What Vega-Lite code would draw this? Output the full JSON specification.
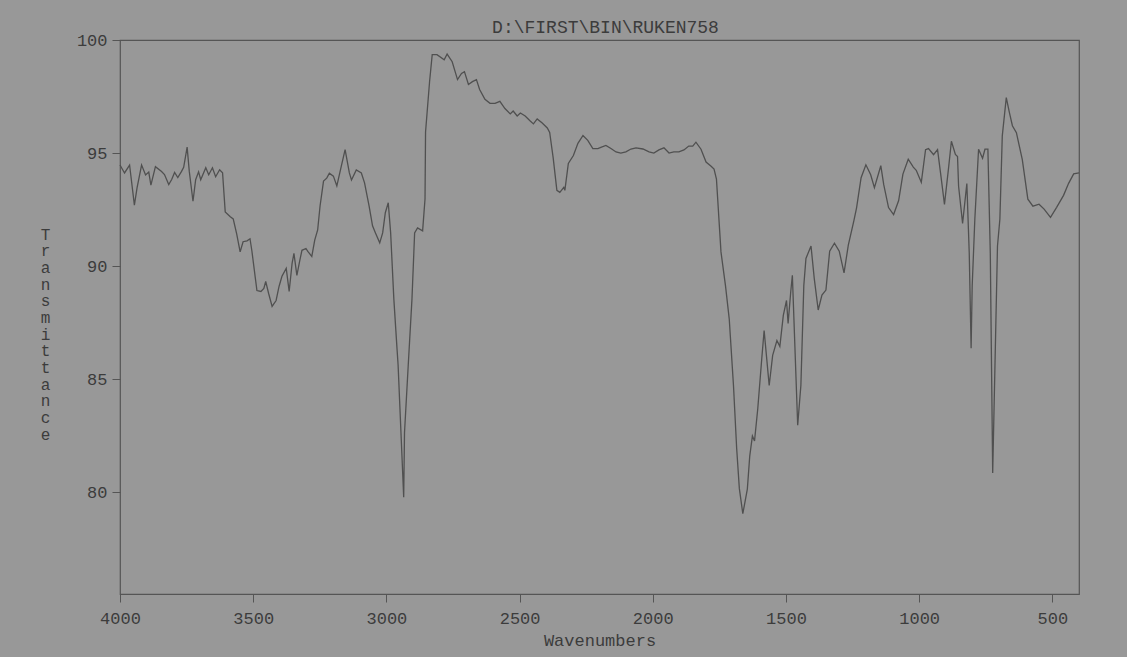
{
  "$schema": "https://vega.github.io/schema/vega-lite/v6.json",
  "autosize": "none",
  "width": 959,
  "height": 554,
  "padding": {"left": 120, "top": 40, "right": 48, "bottom": 63},
  "background": "#989898",
  "title": {
    "text": "D:\\FIRST\\BIN\\RUKEN758",
    "anchor": "middle",
    "offset": -6,
    "font": "Liberation Mono",
    "fontSize": 18,
    "fontWeight": "normal",
    "color": "#3c3c3c",
    "dx": 6
  },
  "config": {
    "view": {"stroke": "#555555", "strokeWidth": 1.2, "fill": null},
    "axis": {
      "labelFont": "Liberation Mono",
      "titleFont": "Liberation Mono",
      "labelColor": "#3c3c3c",
      "titleColor": "#3c3c3c",
      "tickColor": "#555555",
      "grid": false,
      "domain": false,
      "labelFontSize": 17,
      "titleFontWeight": "normal"
    }
  },
  "data": {
    "values": [
      {"wn": 4000, "T": 94.47}, {"wn": 3983, "T": 94.12}, {"wn": 3964, "T": 94.47}, {"wn": 3946, "T": 92.70},
      {"wn": 3936, "T": 93.46}, {"wn": 3919, "T": 94.47}, {"wn": 3904, "T": 94.03}, {"wn": 3892, "T": 94.16},
      {"wn": 3884, "T": 93.58}, {"wn": 3867, "T": 94.40}, {"wn": 3844, "T": 94.18}, {"wn": 3833, "T": 94.05},
      {"wn": 3817, "T": 93.61}, {"wn": 3806, "T": 93.83}, {"wn": 3795, "T": 94.14}, {"wn": 3783, "T": 93.92},
      {"wn": 3769, "T": 94.19}, {"wn": 3761, "T": 94.37}, {"wn": 3748, "T": 95.26}, {"wn": 3740, "T": 94.20},
      {"wn": 3726, "T": 92.87}, {"wn": 3716, "T": 93.82}, {"wn": 3705, "T": 94.17}, {"wn": 3697, "T": 93.82},
      {"wn": 3678, "T": 94.35}, {"wn": 3667, "T": 94.04}, {"wn": 3653, "T": 94.35}, {"wn": 3641, "T": 93.95},
      {"wn": 3626, "T": 94.26}, {"wn": 3615, "T": 94.13}, {"wn": 3605, "T": 92.40}, {"wn": 3586, "T": 92.18},
      {"wn": 3575, "T": 92.09}, {"wn": 3562, "T": 91.43}, {"wn": 3549, "T": 90.63}, {"wn": 3538, "T": 91.08},
      {"wn": 3523, "T": 91.12}, {"wn": 3512, "T": 91.21}, {"wn": 3505, "T": 90.68}, {"wn": 3486, "T": 88.92},
      {"wn": 3471, "T": 88.88}, {"wn": 3460, "T": 89.01}, {"wn": 3453, "T": 89.32}, {"wn": 3442, "T": 88.79},
      {"wn": 3429, "T": 88.22}, {"wn": 3414, "T": 88.48}, {"wn": 3403, "T": 89.10}, {"wn": 3392, "T": 89.55},
      {"wn": 3376, "T": 89.90}, {"wn": 3365, "T": 88.88}, {"wn": 3354, "T": 90.12}, {"wn": 3347, "T": 90.56},
      {"wn": 3336, "T": 89.59}, {"wn": 3325, "T": 90.25}, {"wn": 3317, "T": 90.70}, {"wn": 3302, "T": 90.78},
      {"wn": 3295, "T": 90.65}, {"wn": 3280, "T": 90.43}, {"wn": 3269, "T": 91.15}, {"wn": 3258, "T": 91.60},
      {"wn": 3249, "T": 92.66}, {"wn": 3236, "T": 93.76}, {"wn": 3224, "T": 93.89}, {"wn": 3214, "T": 94.11},
      {"wn": 3199, "T": 93.98}, {"wn": 3186, "T": 93.55}, {"wn": 3169, "T": 94.43}, {"wn": 3155, "T": 95.15},
      {"wn": 3139, "T": 94.12}, {"wn": 3131, "T": 93.81}, {"wn": 3113, "T": 94.25}, {"wn": 3094, "T": 94.12},
      {"wn": 3082, "T": 93.68}, {"wn": 3065, "T": 92.66}, {"wn": 3052, "T": 91.78}, {"wn": 3041, "T": 91.47},
      {"wn": 3025, "T": 91.03}, {"wn": 3014, "T": 91.47}, {"wn": 3004, "T": 92.36}, {"wn": 2993, "T": 92.80},
      {"wn": 2984, "T": 91.47}, {"wn": 2972, "T": 88.54}, {"wn": 2960, "T": 86.33}, {"wn": 2956, "T": 85.62},
      {"wn": 2935, "T": 79.78}, {"wn": 2932, "T": 82.63}, {"wn": 2918, "T": 85.62}, {"wn": 2904, "T": 88.54},
      {"wn": 2894, "T": 91.47}, {"wn": 2883, "T": 91.69}, {"wn": 2864, "T": 91.56}, {"wn": 2855, "T": 92.97},
      {"wn": 2853, "T": 95.93}, {"wn": 2838, "T": 98.14}, {"wn": 2828, "T": 99.35}, {"wn": 2810, "T": 99.35},
      {"wn": 2783, "T": 99.12}, {"wn": 2772, "T": 99.38}, {"wn": 2753, "T": 99.04}, {"wn": 2733, "T": 98.25},
      {"wn": 2718, "T": 98.52}, {"wn": 2707, "T": 98.60}, {"wn": 2692, "T": 98.03}, {"wn": 2677, "T": 98.16},
      {"wn": 2662, "T": 98.25}, {"wn": 2650, "T": 97.81}, {"wn": 2630, "T": 97.38}, {"wn": 2611, "T": 97.20},
      {"wn": 2592, "T": 97.20}, {"wn": 2574, "T": 97.29}, {"wn": 2555, "T": 96.97}, {"wn": 2535, "T": 96.73},
      {"wn": 2524, "T": 96.86}, {"wn": 2509, "T": 96.64}, {"wn": 2497, "T": 96.77}, {"wn": 2479, "T": 96.64},
      {"wn": 2460, "T": 96.42}, {"wn": 2448, "T": 96.29}, {"wn": 2434, "T": 96.51}, {"wn": 2415, "T": 96.33},
      {"wn": 2396, "T": 96.11}, {"wn": 2387, "T": 95.91}, {"wn": 2374, "T": 94.80}, {"wn": 2360, "T": 93.35},
      {"wn": 2349, "T": 93.26}, {"wn": 2334, "T": 93.48}, {"wn": 2330, "T": 93.35}, {"wn": 2317, "T": 94.54},
      {"wn": 2298, "T": 94.89}, {"wn": 2281, "T": 95.43}, {"wn": 2262, "T": 95.78}, {"wn": 2244, "T": 95.56},
      {"wn": 2225, "T": 95.20}, {"wn": 2206, "T": 95.20}, {"wn": 2195, "T": 95.25}, {"wn": 2176, "T": 95.34},
      {"wn": 2157, "T": 95.20}, {"wn": 2138, "T": 95.05}, {"wn": 2120, "T": 95.00}, {"wn": 2101, "T": 95.05},
      {"wn": 2082, "T": 95.18}, {"wn": 2063, "T": 95.23}, {"wn": 2037, "T": 95.18}, {"wn": 2014, "T": 95.05},
      {"wn": 1996, "T": 95.00}, {"wn": 1977, "T": 95.14}, {"wn": 1958, "T": 95.23}, {"wn": 1939, "T": 95.00},
      {"wn": 1921, "T": 95.05}, {"wn": 1902, "T": 95.05}, {"wn": 1883, "T": 95.14}, {"wn": 1865, "T": 95.31},
      {"wn": 1850, "T": 95.31}, {"wn": 1838, "T": 95.48}, {"wn": 1819, "T": 95.17}, {"wn": 1800, "T": 94.60},
      {"wn": 1781, "T": 94.42}, {"wn": 1770, "T": 94.29}, {"wn": 1761, "T": 93.85}, {"wn": 1744, "T": 90.63},
      {"wn": 1727, "T": 89.13}, {"wn": 1713, "T": 87.67}, {"wn": 1697, "T": 84.71}, {"wn": 1685, "T": 81.92},
      {"wn": 1675, "T": 80.16}, {"wn": 1662, "T": 79.05}, {"wn": 1645, "T": 80.14}, {"wn": 1636, "T": 81.60},
      {"wn": 1626, "T": 82.49}, {"wn": 1618, "T": 82.27}, {"wn": 1606, "T": 83.68}, {"wn": 1591, "T": 85.89},
      {"wn": 1582, "T": 87.15}, {"wn": 1563, "T": 84.72}, {"wn": 1550, "T": 86.05}, {"wn": 1534, "T": 86.71},
      {"wn": 1523, "T": 86.45}, {"wn": 1510, "T": 87.82}, {"wn": 1498, "T": 88.48}, {"wn": 1492, "T": 87.47},
      {"wn": 1482, "T": 88.88}, {"wn": 1476, "T": 89.59}, {"wn": 1456, "T": 82.96}, {"wn": 1444, "T": 84.73},
      {"wn": 1433, "T": 89.15}, {"wn": 1425, "T": 90.34}, {"wn": 1406, "T": 90.89}, {"wn": 1394, "T": 89.47},
      {"wn": 1379, "T": 88.06}, {"wn": 1365, "T": 88.72}, {"wn": 1350, "T": 88.94}, {"wn": 1336, "T": 90.66},
      {"wn": 1318, "T": 91.01}, {"wn": 1300, "T": 90.66}, {"wn": 1282, "T": 89.70}, {"wn": 1266, "T": 90.93},
      {"wn": 1245, "T": 92.01}, {"wn": 1235, "T": 92.58}, {"wn": 1218, "T": 93.91}, {"wn": 1200, "T": 94.48},
      {"wn": 1182, "T": 94.04}, {"wn": 1168, "T": 93.47}, {"wn": 1144, "T": 94.44}, {"wn": 1133, "T": 93.60},
      {"wn": 1115, "T": 92.59}, {"wn": 1096, "T": 92.28}, {"wn": 1077, "T": 92.90}, {"wn": 1061, "T": 94.07},
      {"wn": 1041, "T": 94.73}, {"wn": 1022, "T": 94.38}, {"wn": 1011, "T": 94.24}, {"wn": 992, "T": 93.71},
      {"wn": 976, "T": 95.15}, {"wn": 965, "T": 95.20}, {"wn": 946, "T": 94.93}, {"wn": 931, "T": 95.15},
      {"wn": 918, "T": 93.96}, {"wn": 905, "T": 92.73}, {"wn": 889, "T": 94.41}, {"wn": 879, "T": 95.52},
      {"wn": 864, "T": 94.94}, {"wn": 856, "T": 94.85}, {"wn": 852, "T": 93.53}, {"wn": 837, "T": 91.89},
      {"wn": 829, "T": 92.77}, {"wn": 821, "T": 93.65}, {"wn": 812, "T": 90.57}, {"wn": 805, "T": 86.37},
      {"wn": 801, "T": 89.11}, {"wn": 791, "T": 92.08}, {"wn": 777, "T": 95.17}, {"wn": 762, "T": 94.77},
      {"wn": 753, "T": 95.17}, {"wn": 742, "T": 95.17}, {"wn": 733, "T": 90.57}, {"wn": 724, "T": 80.85},
      {"wn": 706, "T": 90.89}, {"wn": 697, "T": 92.08}, {"wn": 688, "T": 95.76}, {"wn": 673, "T": 97.45},
      {"wn": 661, "T": 96.78}, {"wn": 650, "T": 96.21}, {"wn": 635, "T": 95.90}, {"wn": 613, "T": 94.72},
      {"wn": 592, "T": 92.96}, {"wn": 573, "T": 92.65}, {"wn": 550, "T": 92.74}, {"wn": 531, "T": 92.52},
      {"wn": 507, "T": 92.16}, {"wn": 484, "T": 92.60}, {"wn": 458, "T": 93.13}, {"wn": 439, "T": 93.66},
      {"wn": 420, "T": 94.08}, {"wn": 400, "T": 94.12}
    ]
  },
  "mark": {"type": "line", "color": "#505050", "strokeWidth": 1.3, "interpolate": "linear"},
  "encoding": {
    "x": {
      "field": "wn",
      "type": "quantitative",
      "sort": null,
      "scale": {"domain": [400, 4000], "reverse": true, "nice": false, "zero": false},
      "axis": {
        "values": [4000, 3500, 3000, 2500, 2000, 1500, 1000, 500],
        "format": "d",
        "title": "Wavenumbers",
        "titleFontSize": 17,
        "titlePadding": 6,
        "tickSize": 8,
        "labelPadding": 8,
        "labelFlush": false
      }
    },
    "y": {
      "field": "T",
      "type": "quantitative",
      "scale": {"domain": [75.5, 100], "nice": false, "zero": false},
      "axis": {
        "values": [80, 85, 90, 95, 100],
        "format": "d",
        "title": ["T", "r", "a", "n", "s", "m", "i", "t", "t", "a", "n", "c", "e"],
        "titleAngle": 0,
        "titleFontSize": 16,
        "titleLineHeight": 16.7,
        "titleAlign": "center",
        "titleBaseline": "top",
        "titleX": -75,
        "titleY": 186,
        "tickSize": 8,
        "labelPadding": 5
      }
    },
    "order": {"field": "wn", "sort": "descending"}
  }
}
